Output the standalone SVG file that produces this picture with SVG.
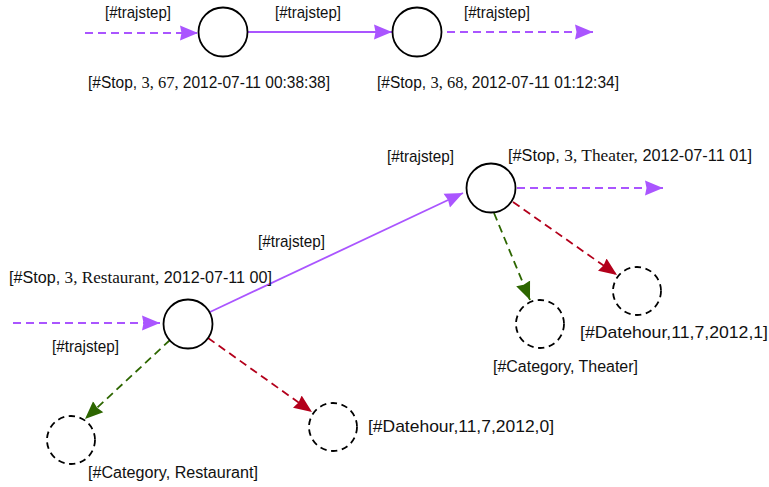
<svg xmlns="http://www.w3.org/2000/svg" width="769" height="487" viewBox="0 0 769 487">
<style>
  .node { fill: #ffffff; stroke: #000000; stroke-width: 1.8; }
  .dnode { fill: #ffffff; stroke: #000000; stroke-width: 1.8; stroke-dasharray: 6.5 4.5; }
  .p { stroke: #aa55ff; stroke-width: 1.8; fill: none; }
  .g { stroke: #2d6600; stroke-width: 1.8; fill: none; stroke-dasharray: 8 5; }
  .r { stroke: #b3001b; stroke-width: 1.8; fill: none; stroke-dasharray: 8 5; }
  .dash { stroke-dasharray: 8 5; }
  text { font-family: "Liberation Sans", "DejaVu Sans", sans-serif; fill: #111111; }
  .ts { font-size: 17px; }
  .lb { font-size: 16px; }
  .big { font-size: 17px; }
  .m { font-family: "Liberation Serif", "DejaVu Serif", serif; font-size: 17px; }
</style>
<defs>
  <marker id="ap" markerUnits="userSpaceOnUse" markerWidth="20" markerHeight="16" refX="18" refY="8" orient="auto">
    <path d="M0,0.5 L18,8 L0,15.5 L1.5,8 z" fill="#aa55ff"/>
  </marker>
  <marker id="ag" markerUnits="userSpaceOnUse" markerWidth="20" markerHeight="16" refX="18" refY="8" orient="auto">
    <path d="M0,0.5 L18,8 L0,15.5 L1.5,8 z" fill="#2d6600"/>
  </marker>
  <marker id="ar" markerUnits="userSpaceOnUse" markerWidth="20" markerHeight="16" refX="18" refY="8" orient="auto">
    <path d="M0,0.5 L18,8 L0,15.5 L1.5,8 z" fill="#b3001b"/>
  </marker>
</defs>

<g id="connectors">
  <line class="p dash" x1="85" y1="33" x2="198" y2="33" marker-end="url(#ap)"/>
  <line class="p" x1="248" y1="32" x2="392" y2="32" marker-end="url(#ap)"/>
  <line class="p dash" x1="447" y1="32" x2="593" y2="32" marker-end="url(#ap)"/>
  <line class="p dash" x1="13" y1="323" x2="160" y2="323" marker-end="url(#ap)"/>
  <line class="p" x1="210" y1="312" x2="463" y2="193" marker-end="url(#ap)"/>
  <line class="p dash" x1="517" y1="188" x2="663" y2="188" marker-end="url(#ap)"/>
  <line class="g" x1="494" y1="213" x2="530" y2="300" marker-end="url(#ag)"/>
  <line class="r" x1="513" y1="202" x2="617" y2="275" marker-end="url(#ar)"/>
  <line class="g" x1="170" y1="340" x2="85" y2="419" marker-end="url(#ag)"/>
  <line class="r" x1="208" y1="338" x2="312" y2="412" marker-end="url(#ar)"/>
</g>

<g id="label-trajstep-1"><text class="ts" x="105" y="18" textLength="66" lengthAdjust="spacingAndGlyphs">[#trajstep]</text></g>
<g id="label-trajstep-2"><text class="ts" x="275" y="18" textLength="66" lengthAdjust="spacingAndGlyphs">[#trajstep]</text></g>
<g id="label-trajstep-3"><text class="ts" x="464" y="18" textLength="66" lengthAdjust="spacingAndGlyphs">[#trajstep]</text></g>
<g id="label-trajstep-4"><text class="ts" x="258" y="247" textLength="67" lengthAdjust="spacingAndGlyphs">[#trajstep]</text></g>
<g id="label-trajstep-5"><text class="ts" x="52" y="352" textLength="67" lengthAdjust="spacingAndGlyphs">[#trajstep]</text></g>
<g id="label-trajstep-6"><text class="ts" x="387" y="162" textLength="67" lengthAdjust="spacingAndGlyphs">[#trajstep]</text></g>

<g id="stop-67">
  <circle class="node" cx="223" cy="32" r="24.5"/>
  <text class="lb" x="88" y="88" textLength="242" lengthAdjust="spacingAndGlyphs">[#Stop, <tspan class="m">3, 67,</tspan> 2012-07-11 00:38:38]</text>
</g>
<g id="stop-68">
  <circle class="node" cx="417" cy="32" r="24.5"/>
  <text class="lb" x="377" y="88" textLength="242" lengthAdjust="spacingAndGlyphs">[#Stop, <tspan class="m">3, 68,</tspan> 2012-07-11 01:12:34]</text>
</g>
<g id="stop-restaurant">
  <circle class="node" cx="188" cy="324" r="24.5"/>
  <text class="lb" x="9" y="283" textLength="263" lengthAdjust="spacingAndGlyphs">[#Stop, <tspan class="m">3, Restaurant,</tspan> 2012-07-11 00]</text>
</g>
<g id="stop-theater">
  <circle class="node" cx="491" cy="188" r="24.5"/>
  <text class="lb" x="508" y="161" textLength="244" lengthAdjust="spacingAndGlyphs">[#Stop, <tspan class="m">3, Theater,</tspan> 2012-07-11 01]</text>
</g>
<g id="category-theater">
  <circle class="dnode" cx="540" cy="324" r="24"/>
  <text class="lb" x="493" y="372" textLength="145" lengthAdjust="spacingAndGlyphs">[#Category, Theater]</text>
</g>
<g id="datehour-1">
  <circle class="dnode" cx="637" cy="291" r="24"/>
  <text class="big" x="580" y="338" textLength="188" lengthAdjust="spacingAndGlyphs">[#Datehour,11,7,2012,1]</text>
</g>
<g id="category-restaurant">
  <circle class="dnode" cx="71" cy="440" r="24"/>
  <text class="lb" x="88" y="478" textLength="170" lengthAdjust="spacingAndGlyphs">[#Category, Restaurant]</text>
</g>
<g id="datehour-0">
  <circle class="dnode" cx="333" cy="427" r="24"/>
  <text class="big" x="368" y="432" textLength="186" lengthAdjust="spacingAndGlyphs">[#Datehour,11,7,2012,0]</text>
</g>
</svg>
